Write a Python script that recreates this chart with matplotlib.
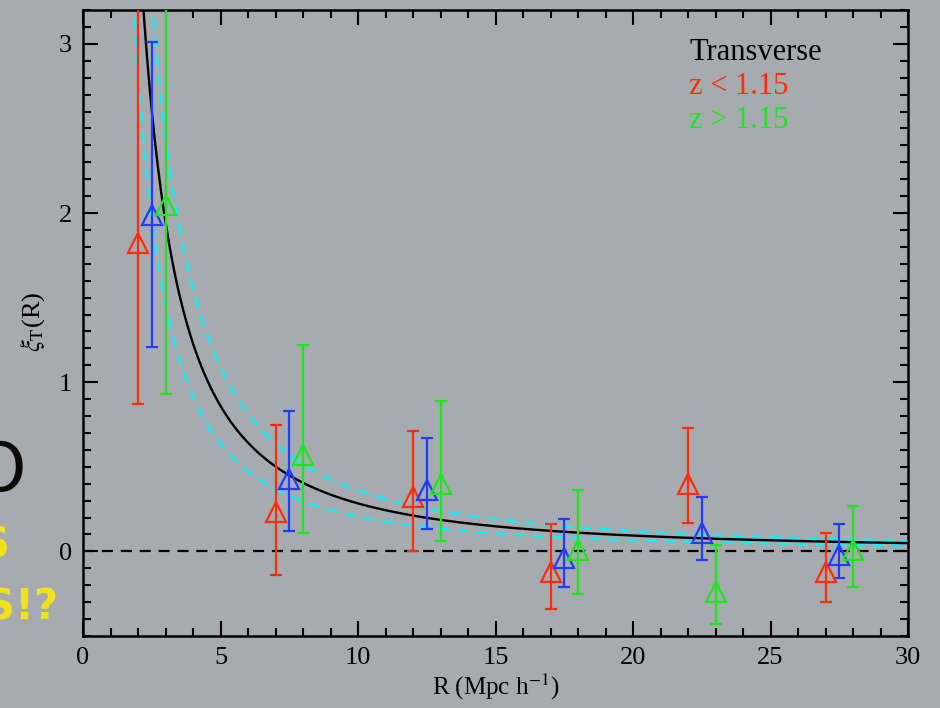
import numpy as np
import matplotlib
matplotlib.use("Agg")
import matplotlib.pyplot as plt
from matplotlib.ticker import MultipleLocator

# ---- data ----
R_red = [2, 7, 12, 17, 22, 27]
xi_red = [1.82, 0.23, 0.32, -0.12, 0.40, -0.12]
lo_red = [0.95, 0.37, 0.32, 0.22, 0.23, 0.18]
hi_red = [1.80, 0.52, 0.39, 0.28, 0.33, 0.23]

R_blue = [2.5, 7.5, 12.5, 17.5, 22.5, 27.5]
xi_blue = [1.99, 0.43, 0.36, -0.04, 0.11, -0.02]
lo_blue = [0.78, 0.31, 0.23, 0.17, 0.16, 0.14]
hi_blue = [1.02, 0.40, 0.31, 0.23, 0.21, 0.18]

R_green = [3, 8, 13, 18, 23, 28]
xi_green = [2.05, 0.57, 0.40, 0.01, -0.24, 0.01]
lo_green = [1.12, 0.46, 0.34, 0.26, 0.19, 0.22]
hi_green = [1.60, 0.65, 0.49, 0.35, 0.28, 0.26]

# power-law fit xi = (R/r0)^-gamma, best fit and 1-sigma envelope
fit_r0, fit_gamma = 4.55, 1.60
up_r0, up_gamma = 5.27, 1.59
lo_r0, lo_gamma = 3.79, 1.63

legend_title = "Transverse"
legend_red = "z < 1.15"
legend_green = "z > 1.15"

# ---- style ----
bg = "#a6abb0"
c_red = "#ff2c0c"
c_blue = "#1f3cff"
c_green = "#1ee61e"
c_cyan = "#00f5ff"

plt.rcParams["font.family"] = ["Liberation Serif", "DejaVu Serif"]
plt.rcParams["mathtext.fontset"] = "stix"

fig = plt.figure(figsize=(9.4, 7.08), dpi=100)
fig.patch.set_facecolor(bg)
ax = fig.add_axes([83/940, 72/708, 825/940, 626/708])
ax.set_facecolor(bg)

Rm = np.linspace(0.3, 30, 600)
ax.plot(Rm, (Rm/up_r0)**(-up_gamma), color=c_cyan, lw=1.6, dashes=(5, 3.5), zorder=2)
ax.plot(Rm, (Rm/lo_r0)**(-lo_gamma), color=c_cyan, lw=1.6, dashes=(5, 3.5), zorder=2)
ax.plot(Rm, (Rm/fit_r0)**(-fit_gamma), color="black", lw=1.7, zorder=3)
ax.axhline(0, color="black", lw=1.6, dashes=(5, 3.5), zorder=2)

for R, xi, lo, hi, c in [(R_red, xi_red, lo_red, hi_red, c_red),
                         (R_blue, xi_blue, lo_blue, hi_blue, c_blue),
                         (R_green, xi_green, lo_green, hi_green, c_green)]:
    ax.errorbar(R, xi, yerr=[lo, hi], fmt="^", ms=14, mfc="none", mec=c, mew=1.6,
                ecolor=c, elinewidth=1.6, capsize=4, capthick=1.6, color=c, zorder=4)

ax.set_xlim(0, 30)
ax.set_ylim(-0.5, 3.2)
ax.xaxis.set_major_locator(MultipleLocator(5))
ax.xaxis.set_minor_locator(MultipleLocator(1))
ax.yaxis.set_major_locator(MultipleLocator(1))
ax.yaxis.set_minor_locator(MultipleLocator(0.1))
ax.tick_params(which="both", direction="in", top=True, right=True, width=1.5,
               labelsize=19, colors="black", pad=8)
ax.tick_params(which="major", length=11)
ax.tick_params(which="minor", length=6)
for s in ax.spines.values():
    s.set_linewidth(1.8)

ax.set_xlabel("R (Mpc h$^{-1}$)", fontsize=18, labelpad=2)
ax.text(-1.82, 1.36, r"$\xi_{\rm T}$(R)", rotation=90, fontsize=19,
        ha="center", va="center", transform=ax.transData)

ax.text(0.735, 0.92, legend_title, transform=ax.transAxes, fontsize=22, color="black")
ax.text(0.735, 0.866, legend_red, transform=ax.transAxes, fontsize=22, color=c_red)
ax.text(0.735, 0.811, legend_green, transform=ax.transAxes, fontsize=22, color=c_green)

# slide text remnants at the left edge
fig.text(26/940, 1 - 472/708, "O", fontsize=48, color="black", ha="right", va="center",
         family="DejaVu Sans", alpha=0.95)
fig.text(10/940, 1 - 546/708, "S", fontsize=30, color="#f2e21e", ha="right", va="center",
         family="DejaVu Sans", fontweight="bold")
fig.text(58/940, 1 - 607/708, "S!?", fontsize=30, color="#f2e21e", ha="right", va="center",
         family="DejaVu Sans", fontweight="bold")

fig.savefig("out.png", dpi=100, facecolor=bg)
